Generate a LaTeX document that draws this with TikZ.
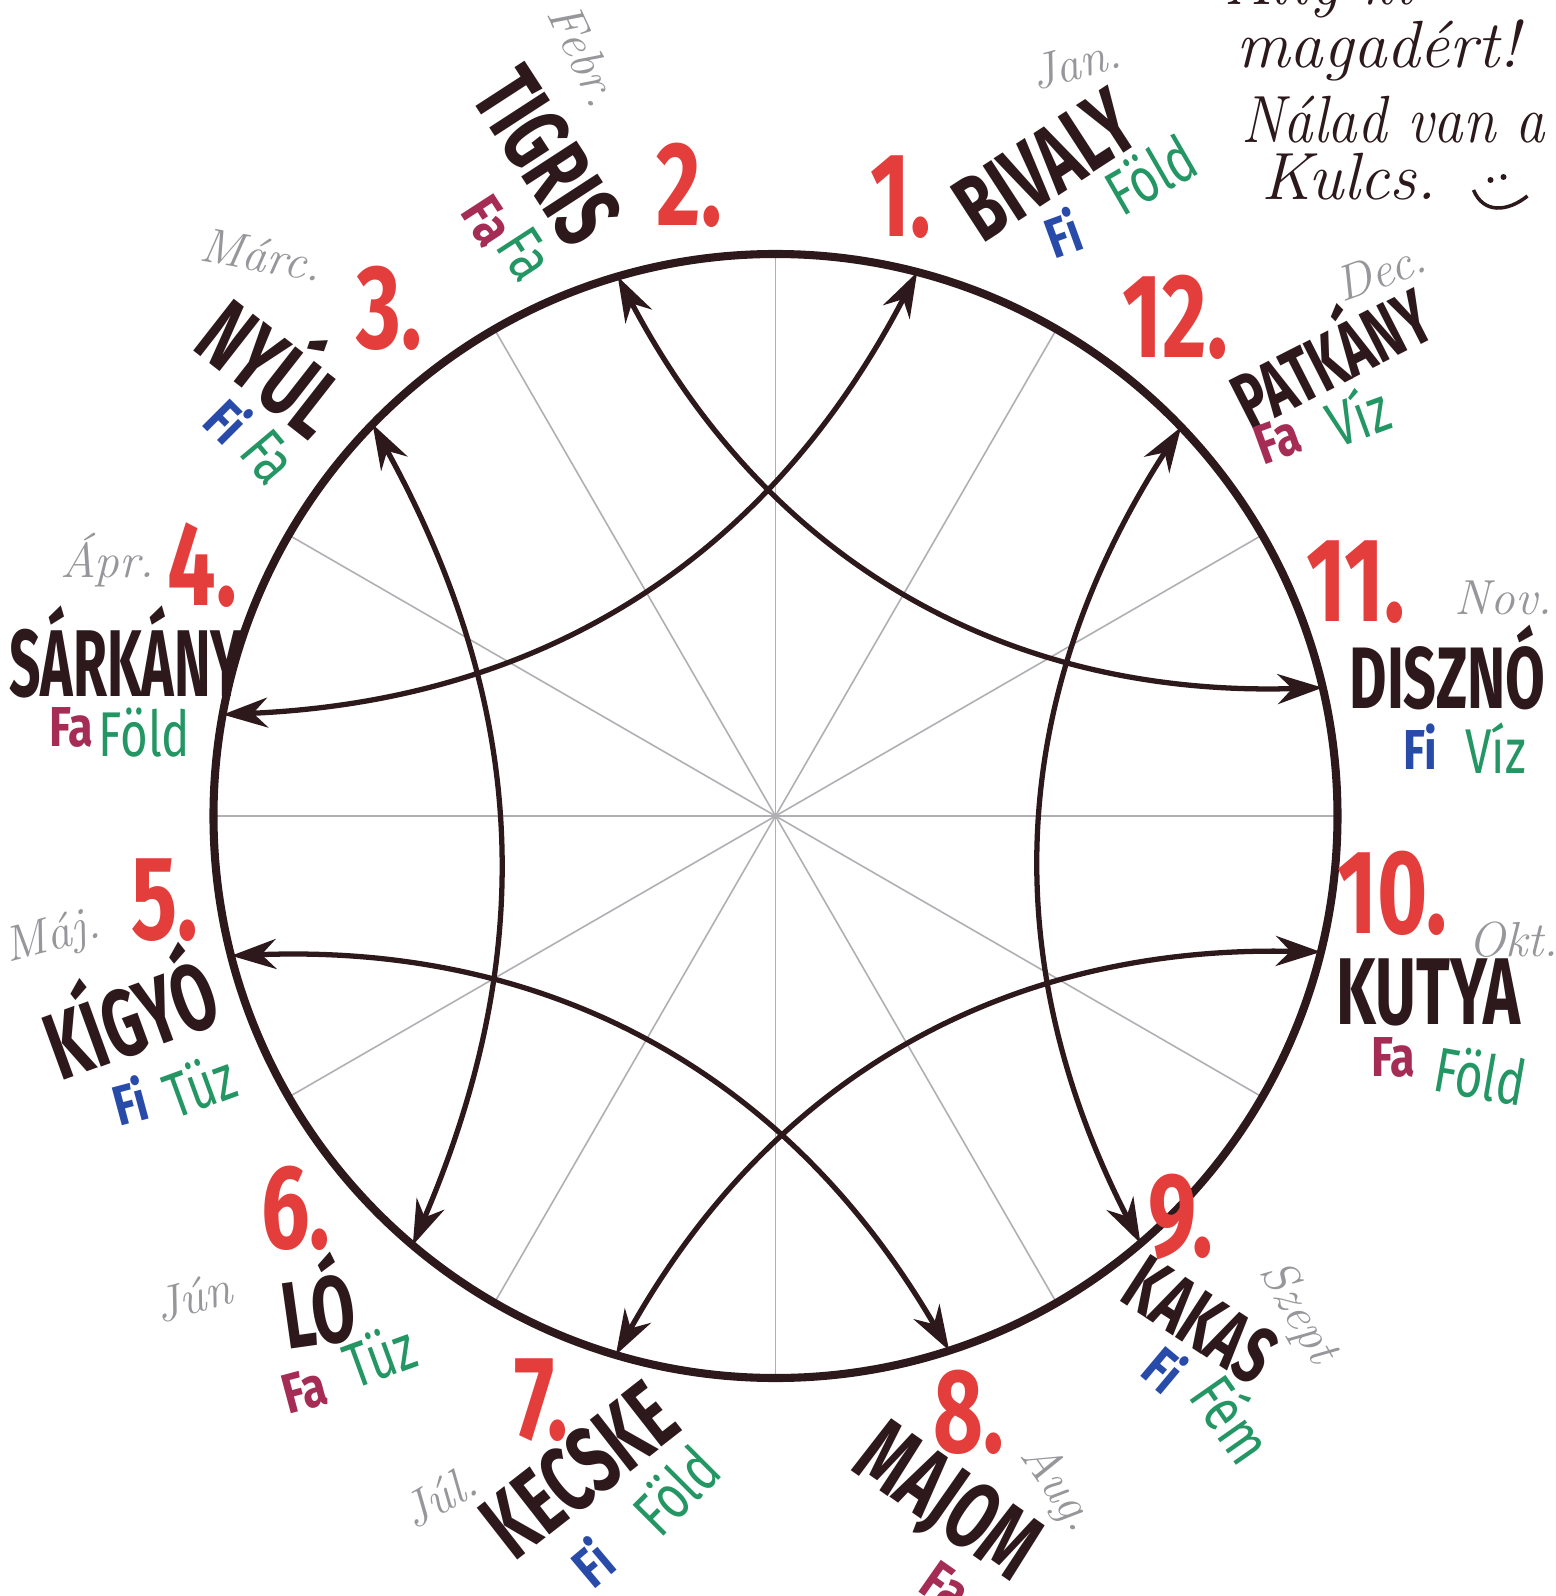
\documentclass[tikz,border=0pt]{standalone}
\usepackage{fontspec}
\usepackage{xcolor}
\usetikzlibrary{arrows.meta,positioning,calc}

\newfontfamily\markerfont{Fira Sans}
\newcommand{\wheelr}{5.62}

\definecolor{ink}{RGB}{45,25,28}
\definecolor{numred}{RGB}{228,62,60}
\definecolor{fiblue}{RGB}{40,75,170}
\definecolor{famaroon}{RGB}{165,45,85}
\definecolor{elgreen}{RGB}{35,150,100}
\definecolor{pencil}{RGB}{150,150,155}
\definecolor{spokegray}{RGB}{175,175,180}

\tikzset{
  rim/.style={draw=ink, line width=2.3pt},
  spoke/.style={draw=spokegray, line width=0.45pt},
  link/.style={draw=ink, line width=1.5pt, {Stealth[length=4.5mm,width=3mm]}-{Stealth[length=4.5mm,width=3mm]}},
  animal/.style={xscale=0.66, inner sep=0pt, text=ink, font=\markerfont\bfseries\fontsize{27}{27}\selectfont},
  num/.style={xscale=0.72, inner sep=0pt, text=numred, font=\markerfont\bfseries\fontsize{34}{34}\selectfont},
  fi/.style={xscale=0.8, inner sep=0pt, text=fiblue, font=\markerfont\bfseries\fontsize{16}{16}\selectfont},
  fa/.style={xscale=0.8, inner sep=0pt, text=famaroon, font=\markerfont\bfseries\fontsize{16}{16}\selectfont},
  elem/.style={xscale=0.75, inner sep=0pt, text=elgreen, font=\markerfont\fontsize{18}{18}\selectfont},
  month/.style={inner sep=0pt, text=pencil, font=\itshape\fontsize{14}{14}\selectfont},
  motto/.style={inner sep=0pt, text=ink, font=\itshape\fontsize{19}{19}\selectfont},
}

\begin{document}
\begin{tikzpicture}
  \clip (-7.755,-7.80) rectangle (7.795,8.16);
  \fill[white] (-7.755,-7.80) rectangle (7.795,8.16);

  \coordinate (c) at (0,0);
  % spokes and wheel
  \foreach \a in {0,30,...,330}
    \draw[spoke] (c) -- (\a:\wheelr);
  \draw[rim] (c) circle (\wheelr);

  \coordinate (pig) at (13.2:\wheelr);
  \coordinate (rat) at (43.8:\wheelr);
  \coordinate (ox) at (75.4:\wheelr);
  \coordinate (tiger) at (106.3:\wheelr);
  \coordinate (rabbit) at (135.8:\wheelr);
  \coordinate (dragon) at (169.6:\wheelr);
  \coordinate (snake) at (194.4:\wheelr);
  \coordinate (horse) at (229.8:\wheelr);
  \coordinate (goat) at (253.5:\wheelr);
  \coordinate (monkey) at (288:\wheelr);
  \coordinate (rooster) at (310.5:\wheelr);
  \coordinate (dog) at (346:\wheelr);

  \draw[link] (pig) to[bend left=32] (tiger);
  \draw[link] (ox) to[bend left=30] (dragon);
  \draw[link] (rabbit) to[bend left=26] (horse);
  \draw[link] (snake) to[bend left=31] (monkey);
  \draw[link] (goat) to[bend left=31] (dog);
  \draw[link] (rooster) to[bend left=30] (rat);

  % 1
  \node[num] (n1) at (1.25,6.19) {1.};
  \node[rotate=33, animal] (bivaly) at (2.70,6.51) {BIVALY};
  \node[rotate=20, fi] (fi1) at (2.87,5.84) {Fi};
  \node[rotate=30, elem] (el1) at (3.75,6.42) {Föld};
  \node[rotate=15, month] (m1) at (3.00,7.53) {Jan.};
  % 2
  \node[num] (n2) at (-0.86,6.31) {2.};
  \node[rotate=-57, animal] (tigris) at (-2.28,6.60) {TIGRIS};
  \node[rotate=-57, fa] (fa2) at (-2.88,5.95) {Fa};
  \node[rotate=-57, elem] (el2) at (-2.50,5.62) {Fa};
  \node[rotate=-65, month] (m2) at (-1.91,7.61) {Febr.};
  % 3
  \node[num] (n3) at (-3.86,5.08) {3.};
  \node[rotate=-38, animal] (nyul) at (-4.98,4.56) {NYÚL};
  \node[rotate=-45, fi] (fi3) at (-5.47,3.96) {Fi};
  \node[rotate=-50, elem] (el3) at (-5.07,3.59) {Fa};
  \node[rotate=-10, month] (m3) at (-5.14,5.61) {Márc.};
  % 4
  \node[num] (n4) at (-5.73,2.51) {4.};
  \node[animal, xscale=0.88] (sarkany) at (-6.49,1.64) {SÁRKÁNY};
  \node[fa] (fa4) at (-7.04,0.89) {Fa};
  \node[elem] (el4) at (-6.31,0.83) {Föld};
  \node[month] (m4) at (-6.68,2.56) {Ápr.};
  % 5
  \node[num] (n5) at (-6.11,-0.84) {5.};
  \node[rotate=20, animal] (kigyo) at (-6.48,-1.94) {KÍGYÓ};
  \node[rotate=15, fi] (fi5) at (-6.46,-2.84) {Fi};
  \node[rotate=20, elem] (el5) at (-5.76,-2.69) {Tüz};
  \node[rotate=15, month] (m5) at (-7.23,-1.22) {Máj.};
  % 6
  \node[num] (n6) at (-4.80,-3.92) {6.};
  \node[rotate=8, animal] (lo) at (-4.58,-4.84) {LÓ};
  \node[rotate=15, fa] (fa6) at (-4.71,-5.74) {Fa};
  \node[rotate=20, elem] (el6) at (-3.96,-5.39) {Tüz};
  \node[rotate=15, month] (m6) at (-5.83,-4.81) {Jún};
  % 7
  \node[num] (n7) at (-2.34,-5.84) {7.};
  \node[rotate=38, animal] (kecske) at (-1.96,-6.54) {KECSKE};
  \node[rotate=40, fi] (fi7) at (-1.84,-7.46) {Fi};
  \node[rotate=45, elem] (el7) at (-1.00,-6.74) {Föld};
  \node[rotate=30, month] (m7) at (-3.36,-6.81) {Júl.};
  % 8
  \node[num] (n8) at (1.93,-5.96) {8.};
  \node[rotate=-35, animal] (majom) at (1.70,-6.89) {MAJOM};
  \node[rotate=-35, fa] (fa8) at (1.70,-7.71) {Fa};
  \node[rotate=-55, month] (m8) at (2.82,-6.72) {Aug.};
  % 9
  \node[num] (n9) at (4.05,-4.01) {9.};
  \node[rotate=-33, animal, scale=0.85] (kakas) at (4.25,-5.04) {KAKAS};
  \node[rotate=-40, fi] (fi9) at (3.90,-5.52) {Fi};
  \node[rotate=-55, elem] (el9) at (4.58,-6.02) {Fém};
  \node[rotate=-60, month] (m9) at (5.22,-4.97) {Szept};
  % 10
  \node[num] (n10) at (6.17,-0.77) {10.};
  \node[animal] (kutya) at (6.53,-1.76) {KUTYA};
  \node[fa] (fa10) at (6.18,-2.41) {Fa};
  \node[rotate=-10, elem] (el10) at (7.05,-2.59) {Föld};
  \node[month] (m10) at (7.38,-1.24) {Okt.};
  % 11
  \node[num] (n11) at (5.80,2.34) {11.};
  \node[animal, xscale=0.92, yscale=0.92] (diszno) at (6.72,1.48) {DISZNÓ};
  \node[fi] (fi11) at (6.45,0.69) {Fi};
  \node[elem] (el11) at (7.20,0.68) {Víz};
  \node[month] (m11) at (7.28,2.18) {Nov.};
  % 12
  \node[num] (n12) at (4.00,4.99) {12.};
  \node[rotate=27, animal, scale=0.82] (patkany) at (5.52,4.66) {PATKÁNY};
  \node[rotate=20, fa] (fa12) at (5.02,3.76) {Fa};
  \node[rotate=20, elem] (el12) at (5.82,4.02) {Víz};
  \node[rotate=20, month] (m12) at (6.05,5.45) {Dec.};

  % motto
  \node[motto, anchor=base west] (l1) at (4.48,8.11) {Ally ki};
  \node[motto, anchor=base west] (l2) at (4.60,7.48) {magadért!};
  \node[motto, anchor=base west, xscale=0.88] (l3) at (4.65,6.73) {Nálad van a};
  \node[motto, anchor=base west] (l4) at (4.85,6.16) {Kulcs.};
  \fill[ink] (7.15,6.36) circle (0.03) (7.28,6.39) circle (0.03);
  \draw[ink, line width=1pt] (6.98,6.26) .. controls (7.08,6.02) and (7.32,6.04) .. (7.52,6.20);
\end{tikzpicture}
\end{document}
